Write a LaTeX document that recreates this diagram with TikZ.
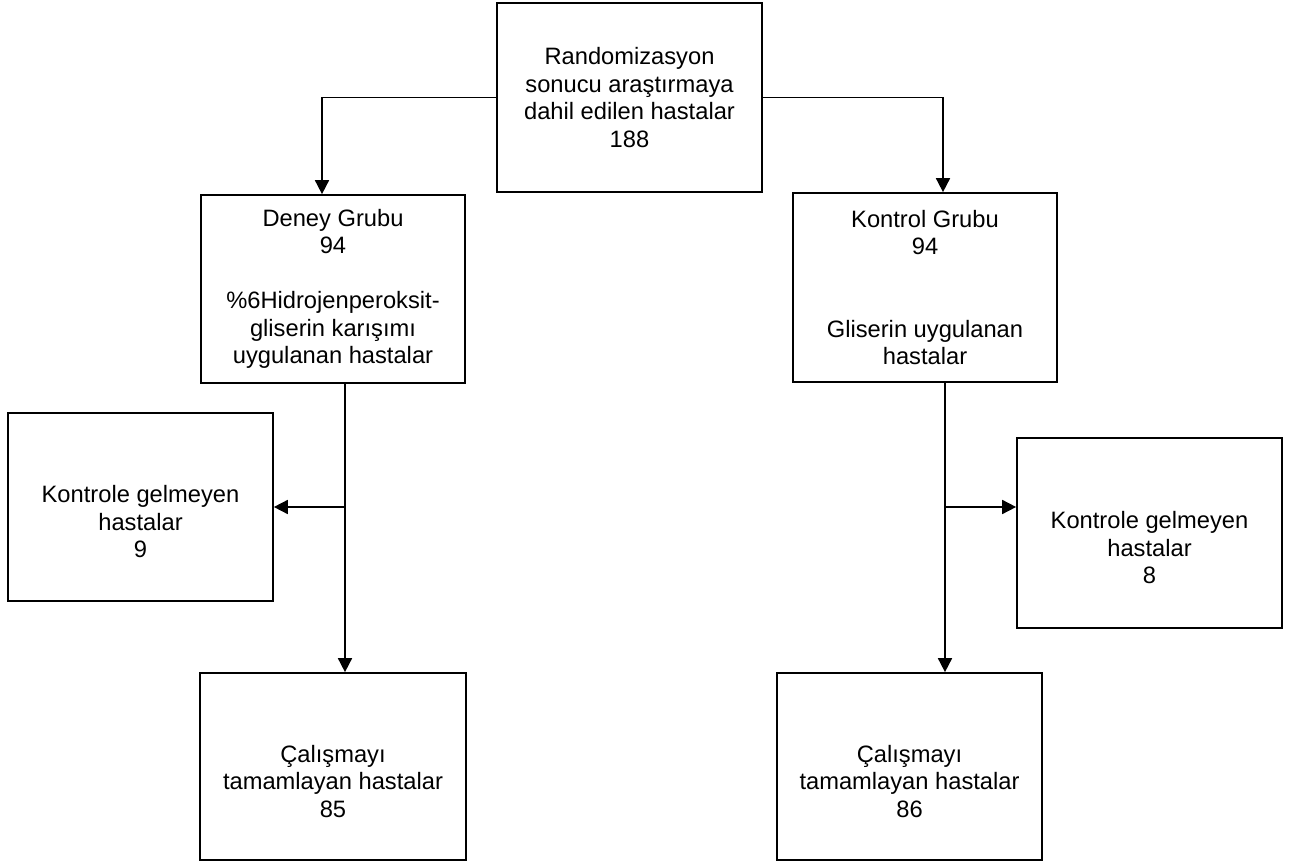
\documentclass[tikz,border=0pt]{standalone}
\usepackage{fontspec}
\setmainfont{Liberation Sans}
\usetikzlibrary{arrows.meta}
\begin{document}
\begin{tikzpicture}[x=1pt,y=-1pt,
  box/.style={draw=black,line width=1.7pt,rectangle,inner sep=0pt,align=center,
    font=\fontsize{23.7}{27.5}\selectfont},
  arr/.style={line width=1.7pt,-{Triangle[length=14pt,width=14pt]}}]
\useasboundingbox (0,0) rectangle (1296,866);
\fill[white] (0,0) rectangle (1296,866);

\node[box,minimum width=265pt,minimum height=189pt] (top) at (629.5,97.5)
  {Randomizasyon\\sonucu araştırmaya\\dahil edilen hastalar\\188};
\node[box,minimum width=264pt,minimum height=188pt] (deney) at (333,289)
  {Deney Grubu\\94\\[27.5pt]\%6Hidrojenperoksit-\\gliserin karışımı\\uygulanan hastalar};
\node[box,minimum width=264pt,minimum height=189pt] (kontrol) at (925,287.5)
  {Kontrol Grubu\\94\\[55pt]Gliserin uygulanan\\hastalar};
\node[box,minimum width=265pt,minimum height=188pt] (lk) at (140.5,507)
  {\strut\\Kontrole gelmeyen\\hastalar\\9};
\node[box,minimum width=265pt,minimum height=190pt] (rk) at (1149.5,533)
  {\strut\\Kontrole gelmeyen\\hastalar\\8};
\node[box,minimum width=266pt,minimum height=187pt] (bl) at (333,766.5)
  {\strut\\Çalışmayı\\tamamlayan hastalar\\85};
\node[box,minimum width=265pt,minimum height=187pt] (br) at (909.5,766.5)
  {\strut\\Çalışmayı\\tamamlayan hastalar\\86};

\draw[arr] (top.west) -| ([xshift=-11pt]deney.north);
\draw[arr] (top.east) -| ([xshift=18pt]kontrol.north);

\draw[arr] ([xshift=12pt]deney.south) -- ([xshift=12pt]bl.north);
\coordinate (jl) at ([xshift=12pt]deney.south |- lk.east);
\draw[arr] (jl) -- (lk.east);

\coordinate (ry) at (0,507);
\draw[arr] ([xshift=20pt]kontrol.south) -- ([xshift=20pt]kontrol.south |- br.north);
\coordinate (jr) at ([xshift=20pt]kontrol.south |- ry);
\draw[arr] (jr) -- (jr -| rk.west);
\end{tikzpicture}
\end{document}
